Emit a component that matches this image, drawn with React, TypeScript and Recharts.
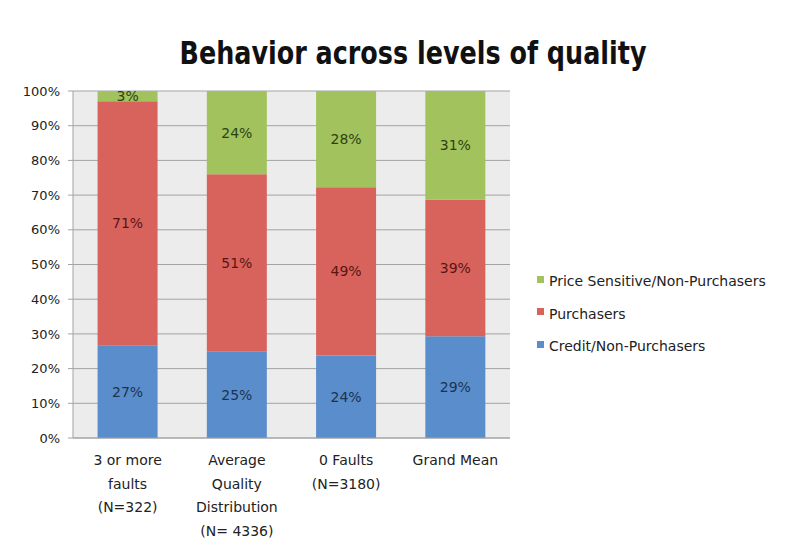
import React from "react";
import { BarChart, Bar, XAxis, YAxis, CartesianGrid, Legend, LabelList, Customized } from "recharts";

// Chart content
const TITLE = "Behavior across levels of quality";
const categories = [
  "3 or more\nfaults\n(N=322)",
  "Average\nQuality\nDistribution\n(N= 4336)",
  "0 Faults\n(N=3180)",
  "Grand Mean",
];
const creditNonPurchasers = [27, 25, 24, 29];
const purchasers = [71, 51, 49, 39];
const priceSensitive = [3, 24, 28, 31];
const yTicks = [0, 0.1, 0.2, 0.3, 0.4, 0.5, 0.6, 0.7, 0.8, 0.9, 1];

// Stacking order, bottom to top
const SERIES = [
  { key: "credit", name: "Credit/Non-Purchasers", color: "#5a8dcb", labelColor: "#1b3450" },
  { key: "purchasers", name: "Purchasers", color: "#d8635d", labelColor: "#5a1512" },
  { key: "price", name: "Price Sensitive/Non-Purchasers", color: "#a2c25d", labelColor: "#2c4212" },
];

const data = categories.map((c, i) => ({
  category: c,
  credit: creditNonPurchasers[i],
  purchasers: purchasers[i],
  price: priceSensitive[i],
}));

const FONT = "'DejaVu Sans', sans-serif";

const CategoryTick = (props: any) => {
  const { x, y, payload } = props;
  const lines = String(payload.value).split("\n");
  return (
    <text x={x} y={y + 27} textAnchor="middle" fontFamily={FONT} fontSize={14} fill="#222">
      {lines.map((l, i) => (
        <tspan key={i} x={x} dy={i === 0 ? 0 : 23.5}>
          {l}
        </tspan>
      ))}
    </text>
  );
};

// Legend lists the series top-down, matching the stack
const LegendList = (props: any) => {
  const payload = props.payload || [];
  const items = [...SERIES]
    .reverse()
    .map((s) => payload.find((p: any) => p.value === s.name || p.dataKey === s.key))
    .filter(Boolean);
  return (
    <div style={{ fontFamily: FONT, fontSize: 14, color: "#222" }}>
      {items.map((it: any, i: number) => (
        <div key={i} style={{ display: "flex", alignItems: "center", height: 32.5 }}>
          <span style={{ width: 7, height: 7, background: it.color, marginRight: 5, marginTop: -4 }} />
          <span>{it.value}</span>
        </div>
      ))}
    </div>
  );
};

// Title plus the thin frame around the chart area
const Decor = () => (
  <g>
    <path d="M 6 548 L 6 6 L 810 6" fill="none" stroke="#b4b4b4" strokeWidth={3} />
    <text
      x={413}
      y={64}
      textAnchor="middle"
      fontFamily="'DejaVu Sans Condensed', 'Liberation Sans Narrow', 'DejaVu Sans', sans-serif"
      fontWeight="bold"
      fontSize={32}
      fill="#111"
      textLength={467}
      lengthAdjust="spacingAndGlyphs"
    >
      {TITLE}
    </text>
  </g>
);

export default function App() {
  return (
    <div style={{ position: "relative", width: 810, height: 548, margin: -8, overflow: "hidden", background: "#fff" }}>
      <BarChart
        width={810}
        height={548}
        data={data}
        stackOffset="expand"
        barCategoryGap="22.5%"
        margin={{ top: 91, right: 300, bottom: 10, left: 0 }}
      >
        <CartesianGrid vertical={false} fill="#ececec" stroke="#a3a3a3" />
        <XAxis
          dataKey="category"
          height={100}
          tick={<CategoryTick />}
          tickLine={false}
          tickSize={0}
          tickMargin={0}
          axisLine={{ stroke: "#a3a3a3" }}
          interval={0}
        />
        <YAxis
          width={73}
          domain={[0, 1]}
          ticks={yTicks}
          tickFormatter={(v: number) => `${Math.round(v * 100)}%`}
          tick={{ fontFamily: FONT, fontSize: 13, fill: "#222" }}
          tickSize={5}
          tickMargin={8}
          tickLine={{ stroke: "#a3a3a3" }}
          axisLine={{ stroke: "#a3a3a3" }}
        />
        {SERIES.map((s) => (
          <Bar key={s.key} dataKey={s.key} name={s.name} stackId="a" fill={s.color} isAnimationActive={false}>
            <LabelList
              dataKey={s.key}
              position="center"
              formatter={(v: any) => `${v}%`}
              style={{ fontFamily: FONT, fontSize: 14, fill: s.labelColor }}
            />
          </Bar>
        ))}
        <Legend
          layout="horizontal"
          verticalAlign="middle"
          align="center"
          content={<LegendList />}
          wrapperStyle={{ left: 537, top: 265, width: 270 }}
        />
        <Customized component={<Decor />} />
      </BarChart>
    </div>
  );
}
